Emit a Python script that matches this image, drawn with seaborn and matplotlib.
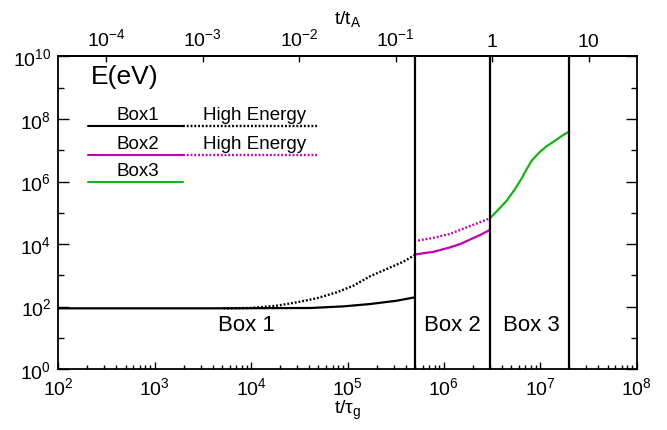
import numpy as np
import pandas as pd
import matplotlib
matplotlib.use("Agg")
import matplotlib.pyplot as plt
import matplotlib.ticker as mticker
import seaborn as sns

# ---------------- data ----------------
box1_t = [1e2, 3.75e3, 4.08e4, 9.06e4, 1.71e5, 3.24e5, 5e5]
box1_E = [87.5, 87.5, 89.5, 101, 120, 153, 197]

box1_he_t = [5.15e3, 9.75e3, 1.85e4, 2.97e4, 4.79e4, 7.73e4, 1.15e5, 1.71e5, 2.55e5, 3.79e5, 5e5]
box1_he_E = [87.5, 89.5, 106, 136, 183, 284, 463, 925, 1585, 2716, 4446]

box2_t = [5e5, 6.3e5, 7.8e5, 1.15e6, 1.48e6, 1.86e6, 2.34e6, 3e6]
box2_E = [4600, 5130, 5620, 7760, 10000, 13800, 19000, 28200]

box2_he_t = [5.4e5, 7.8e5, 1.15e6, 1.86e6, 3e6]
box2_he_E = [12900, 15800, 20900, 37200, 66100]

box3_t = [3.0e6, 3.66e6, 4.48e6, 5.47e6, 6.41e6, 7.23e6, 8.15e6, 9.53e6, 1.16e7, 1.42e7, 1.73e7, 2.0e7]
box3_E = [6.64e4, 1.25e5, 2.43e5, 5.75e5, 1.26e6, 2.51e6, 4.63e6, 7.94e6, 1.34e7, 2.02e7, 3.08e7, 4.0e7]

box_edges = [5e5, 3e6, 2e7]
box_labels = ["Box 1", "Box 2", "Box 3"]
t_A = 10 ** 6.5

bottom_ticks = [1e2, 1e3, 1e4, 1e5, 1e6, 1e7, 1e8]
bottom_labels = ["$10^{2}$", "$10^{3}$", "$10^{4}$", "$10^{5}$", "$10^{6}$", "$10^{7}$", "$10^{8}$"]
top_ticks = [1e-4, 1e-3, 1e-2, 1e-1, 1, 10]
top_labels = ["$10^{-4}$", "$10^{-3}$", "$10^{-2}$", "$10^{-1}$", "1", "10"]
left_ticks = [1e0, 1e2, 1e4, 1e6, 1e8, 1e10]
left_labels = ["$10^{0}$", "$10^{2}$", "$10^{4}$", "$10^{6}$", "$10^{8}$", "$10^{10}$"]

legend_names = ["Box1", "Box2", "Box3"]
legend_he = ["High Energy", "High Energy", None]

BLACK = "#000000"
MAGENTA = "#c000b4"
GREEN = "#14b414"

# ---------------- style ----------------
sns.set_style("ticks")
plt.rcParams["font.family"] = ["Liberation Sans", "DejaVu Sans"]
plt.rcParams["mathtext.fontset"] = "custom"
plt.rcParams["mathtext.rm"] = "Liberation Sans"
plt.rcParams["mathtext.it"] = "Liberation Sans:italic"
plt.rcParams["mathtext.bf"] = "Liberation Sans:bold"
for k in ["text.color", "axes.labelcolor", "xtick.color", "ytick.color", "axes.edgecolor"]:
    plt.rcParams[k] = "black"

fig = plt.figure(figsize=(6.67, 4.31), dpi=100)
ax = fig.add_axes([0.0874, 0.1415, 0.8672, 0.7251])

dot = (0, (0.8, 0.8))

def draw(t, E, color, ls, lw=1.5):
    df = pd.DataFrame({"t": t, "E": E})
    sns.lineplot(data=df, x="t", y="E", ax=ax, color=color, linestyle=ls,
                 linewidth=lw, estimator=None, sort=False)

draw(box1_he_t, box1_he_E, BLACK, dot, 1.7)
draw(box1_t, box1_E, BLACK, "-", 1.6)
draw(box2_he_t, box2_he_E, MAGENTA, dot, 1.7)
draw(box2_t, box2_E, MAGENTA, "-", 1.6)
draw(box3_t, box3_E, GREEN, "-", 1.6)

for edge in box_edges:
    ax.axvline(edge, color="black", lw=1.6)

ax.set_xscale("log")
ax.set_yscale("log")
ax.set_xlim(1e2, 1e8)
ax.set_ylim(1e0, 1e10)

for s in ax.spines.values():
    s.set_linewidth(1.3)
    s.set_color("black")

ax.set_xticks(bottom_ticks)
ax.set_xticklabels(bottom_labels)
ax.xaxis.set_minor_locator(mticker.LogLocator(base=10, subs=np.arange(2, 10)))
ax.xaxis.set_minor_formatter(mticker.NullFormatter())
ax.set_yticks(left_ticks)
ax.set_yticklabels(left_labels)
ax.yaxis.set_minor_locator(mticker.FixedLocator([1e1, 1e3, 1e5, 1e7, 1e9]))
ax.yaxis.set_minor_formatter(mticker.NullFormatter())

ax.tick_params(axis="x", which="major", direction="in", length=5, width=1,
               labelsize=14, pad=5, bottom=True, top=False)
ax.tick_params(axis="x", which="minor", direction="in", length=3, width=1,
               bottom=True, top=False)
ax.tick_params(axis="y", which="major", direction="in", length=8, width=1,
               labelsize=14, pad=5, left=True, right=True)
ax.tick_params(axis="y", which="minor", direction="in", length=4, width=1,
               left=True, right=True)

ax.set_xlabel("t/τ$_{\\rm g}$", fontsize=14, labelpad=0)
ax.set_ylabel("")

sec = ax.secondary_xaxis("top", functions=(lambda t: t / t_A, lambda r: r * t_A))
sec.set_xticks(top_ticks)
sec.set_xticklabels(top_labels)
sec.xaxis.set_minor_locator(mticker.NullLocator())
sec.tick_params(axis="x", which="major", direction="in", length=4, width=1,
                labelsize=14, pad=5)
sec.spines["top"].set_linewidth(1.3)
sec.set_xlabel("t/t$_{\\rm A}$", fontsize=14, labelpad=3)

# ---------------- annotations / legend ----------------
ax.text(0.056, 0.937, "E(eV)", transform=ax.transAxes, fontsize=19,
        ha="left", va="center")

leg_y_line = [0.7786, 0.6858, 0.5994]
leg_y_text = [0.813, 0.723, 0.6346]
leg_colors = [BLACK, MAGENTA, GREEN]
for name, he, yl, yt, c in zip(legend_names, legend_he, leg_y_line, leg_y_text, leg_colors):
    ax.plot([0.0513, 0.2156], [yl, yl], transform=ax.transAxes, color=c, lw=1.5)
    ax.text(0.1378, yt, name, transform=ax.transAxes, fontsize=13.5,
            ha="center", va="center")
    if he is not None:
        ax.plot([0.2156, 0.447], [yl, yl], transform=ax.transAxes, color=c,
                lw=1.7, linestyle=dot)
        ax.text(0.339, yt, he, transform=ax.transAxes, fontsize=13.5,
                ha="center", va="center")

for lab, xc in zip(box_labels, [0.3245, 0.682, 0.8173]):
    ax.text(xc, 0.144, lab, transform=ax.transAxes, fontsize=16,
            ha="center", va="center")

fig.savefig("out.png", dpi=100)
